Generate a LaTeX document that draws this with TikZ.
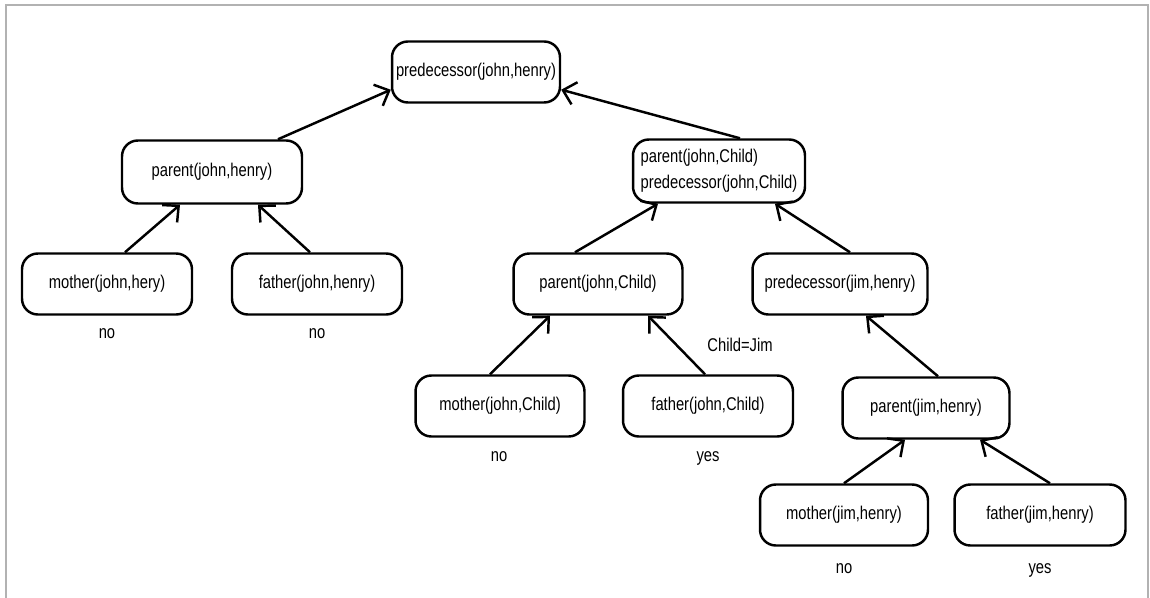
\documentclass[tikz,border=0pt]{standalone}
\usepackage{fontspec}
\setmainfont{Liberation Sans}[FakeStretch=0.8]
\usetikzlibrary{arrows.meta,positioning}

\begin{document}
\begin{tikzpicture}[x=0.02cm, y=-0.02cm, font=\fontsize{10.5}{13}\selectfont,
      box/.style={draw, rounded corners=9pt, line width=1.4pt, minimum width=3.4cm,
        minimum height=1.22cm, inner sep=2pt, align=left},
      edge/.style={line width=1.4pt, -{Straight Barb[length=2.4mm, width=4.6mm]}},
      ans/.style={inner sep=1pt, anchor=base}]
    \useasboundingbox (0,0) rectangle (1150,598);
    \draw[gray!60, line width=0.6pt] (6,598) -- (6,5) -- (1148,5) -- (1148,598);
    % goal and the first rule
    \node[box, minimum width=3.36cm] (predJH) at (476,72) {predecessor(john,henry)};
    \node[box, minimum width=3.6cm, minimum height=1.26cm] (parJH) at (212,172) {parent(john,henry)};
    \node[box] (motJH) at (107,284) {mother(john,hery)};
    \node[box] (fatJH) at (317,284) {father(john,henry)};
    \node[ans] (noMotJH) at (107,338) {no};
    \node[ans] (noFatJH) at (317,338) {no};
    % second rule
    \node[box, minimum width=3.44cm, minimum height=1.26cm] (parPredJC) at (719,171)
      {parent(john,Child)\\[2pt]predecessor(john,Child)};
    \node[box, minimum width=3.38cm] (parJC) at (598,284) {parent(john,Child)};
    \node[box, minimum width=3.5cm] (predJimH) at (840,284) {predecessor(jim,henry)};
    \node[box, minimum width=3.38cm] (motJC) at (500,406) {mother(john,Child)};
    \node[box] (fatJC) at (708,406) {father(john,Child)};
    \node[ans] (noMotJC) at (499,461) {no};
    \node[ans] (yesFatJC) at (708,461) {yes};
    \node[ans] (bind) at (740,351) {Child=Jim};
    \node[box, minimum width=3.34cm] (parJimH) at (926,408) {parent(jim,henry)};
    \node[box, minimum width=3.36cm] (motJimH) at (844,515) {mother(jim,henry)};
    \node[box, minimum width=3.42cm] (fatJimH) at (1040,515) {father(jim,henry)};
    \node[ans] (noMotJimH) at (844,573) {no};
    \node[ans] (yesFatJimH) at (1040,573) {yes};
    % arrows
    \draw[edge] ([xshift=0.36cm]motJH.north) -- ([xshift=-0.64cm]parJH.south);
    \draw[edge] ([xshift=-0.14cm]fatJH.north) -- ([xshift=0.92cm]parJH.south);
    \draw[edge] ([xshift=1.32cm]parJH.north) -- ([yshift=0.28cm]predJH.south west);
    \draw[edge] ([xshift=0.42cm]parPredJC.north) -- ([yshift=0.28cm]predJH.south east);
    \draw[edge] ([xshift=-0.46cm]parJC.north) -- ([xshift=-1.22cm]parPredJC.south);
    \draw[edge] ([xshift=0.2cm]predJimH.north) -- ([xshift=1.12cm]parPredJC.south);
    \draw[edge] ([xshift=-0.2cm]motJC.north) -- ([xshift=-0.96cm]parJC.south);
    \draw[edge] ([xshift=-0.06cm]fatJC.north) -- ([xshift=1.0cm]parJC.south);
    \draw[edge] ([xshift=0.24cm]parJimH.north) -- ([xshift=0.52cm]predJimH.south);
    \draw[edge] (motJimH.north) -- ([xshift=-0.42cm]parJimH.south);
    \draw[edge] ([xshift=0.2cm]fatJimH.north) -- ([xshift=1.08cm]parJimH.south);
  \end{tikzpicture}
\end{document}
